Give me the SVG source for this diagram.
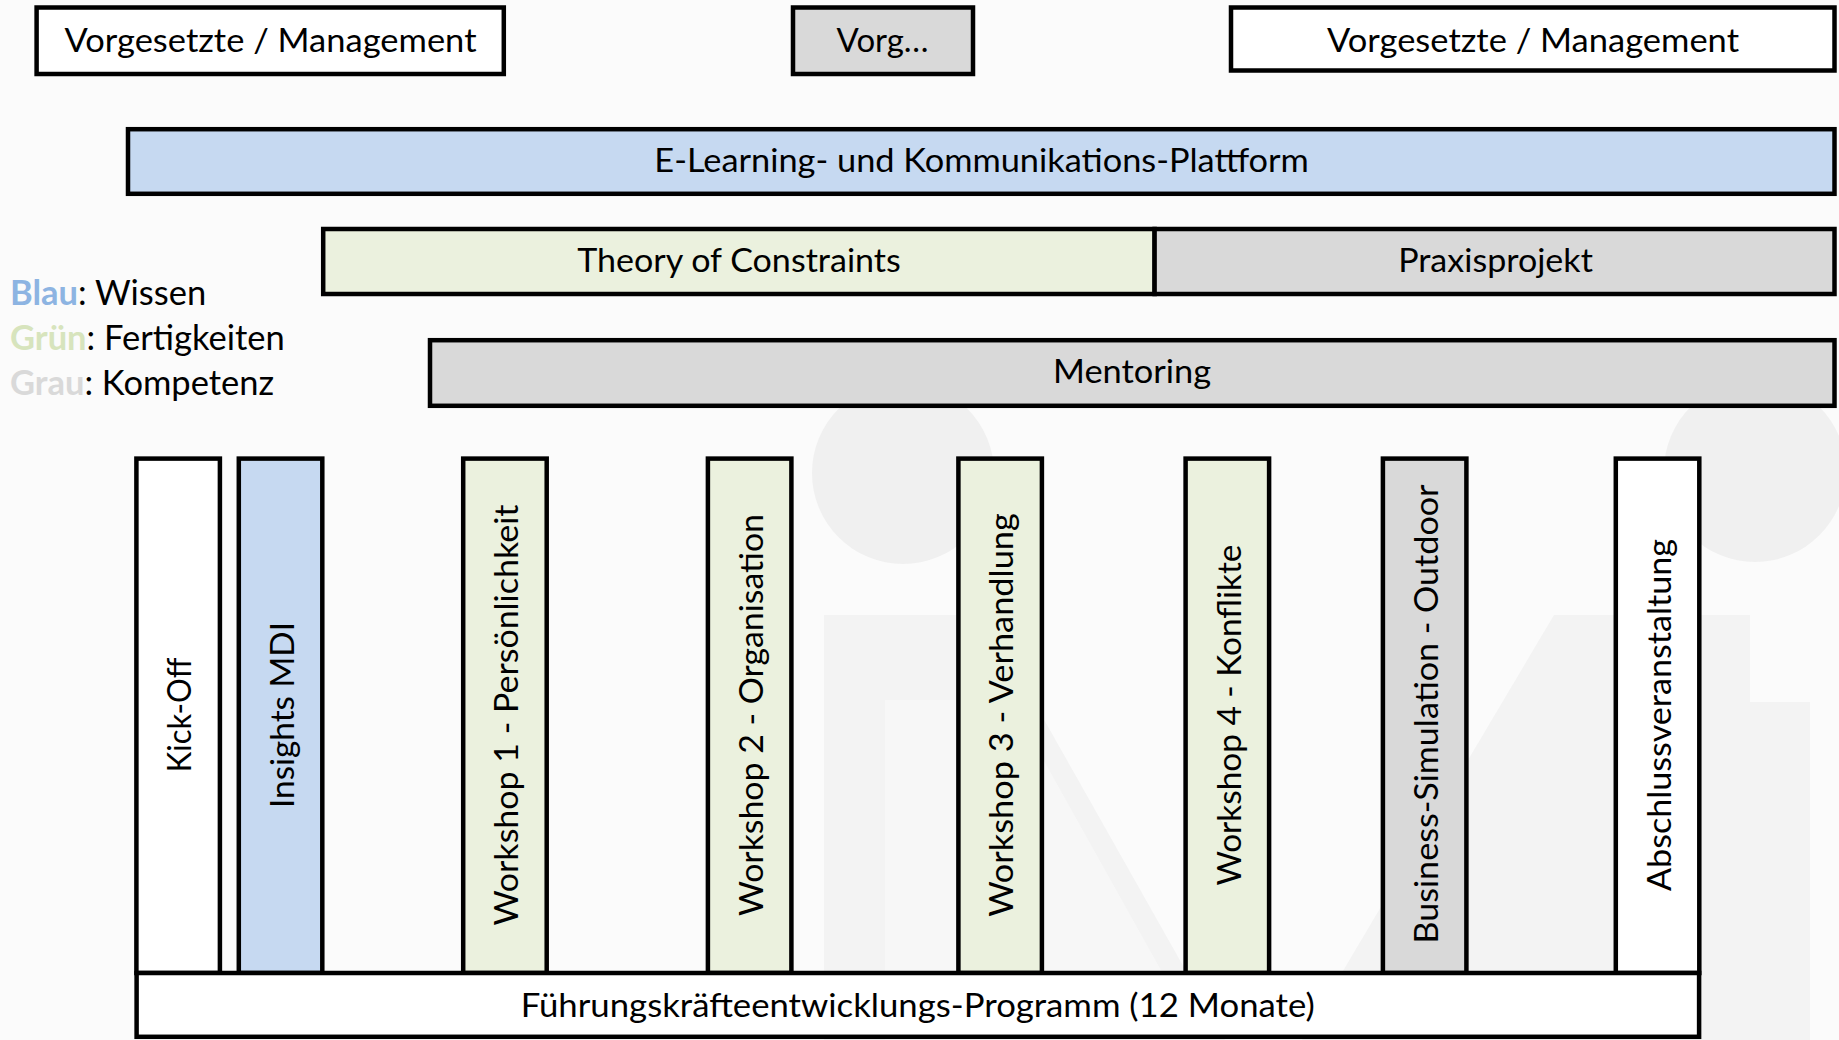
<svg xmlns="http://www.w3.org/2000/svg" width="1839" height="1040" viewBox="0 0 1839 1040">
  <defs>
    <style>
      .box { stroke: #000; stroke-width: 4.5; stroke-linejoin: miter; }
      .white { fill: #ffffff; }
      .blue { fill: #c6d9f1; }
      .green { fill: #ebf1de; }
      .gray { fill: #d9d9d9; }
      .t { font-family: "Lato", "Carlito", "Liberation Sans", sans-serif; font-size: 33px; fill: #000; text-anchor: middle; }
      .lg { font-family: "Lato", "Carlito", "Liberation Sans", sans-serif; font-size: 34.5px; fill: #000; }
      .wm1 { fill: #f0f0f0; }
      .wm2 { fill: #f3f3f3; }
      .wm3 { fill: #f7f7f7; }
    </style>
  </defs>

  <rect x="0" y="0" width="1839" height="1040" fill="#fbfbfb"/>

  <g id="watermark">
    <circle class="wm1" cx="903" cy="473" r="91"/>
    <circle class="wm1" cx="1755" cy="471" r="91"/>
    <path class="wm2" d="M824,615 L985,615 L1225,1040 L824,1040 Z"/>
    <path class="wm3" d="M885,700 L1010,700 L1200,1040 L885,1040 Z"/>
    <path class="wm2" d="M1302,1040 L1554,615 L1750,615 L1750,702 L1810,702 L1810,1040 Z"/>
  </g>

  <g id="connectors"/>

  <g id="legend">
    <text class="lg" x="10" y="305"><tspan fill="#8db4e2" font-weight="bold">Blau</tspan>: Wissen</text>
    <text class="lg" x="10" y="350"><tspan fill="#d7e4bd" font-weight="bold">Grün</tspan>: Fertigkeiten</text>
    <text class="lg" x="10" y="395"><tspan fill="#d9d9d9" font-weight="bold">Grau</tspan>: Kompetenz</text>
  </g>

  <g id="vorgesetzte-links">
    <rect class="box white" x="36.6" y="7.5" width="467.2" height="66.5"/>
    <text class="t" x="270.5" y="52" textLength="412" lengthAdjust="spacingAndGlyphs">Vorgesetzte / Management</text>
  </g>
  <g id="vorgesetzte-mitte">
    <rect class="box gray" x="793" y="7.5" width="180" height="66.5"/>
    <text class="t" x="882.6" y="52" textLength="92" lengthAdjust="spacingAndGlyphs">Vorg…</text>
  </g>
  <g id="vorgesetzte-rechts">
    <rect class="box white" x="1231" y="7.5" width="603.5" height="63"/>
    <text class="t" x="1533" y="52" textLength="412" lengthAdjust="spacingAndGlyphs">Vorgesetzte / Management</text>
  </g>

  <g id="e-learning">
    <rect class="box blue" x="128" y="129.2" width="1706.5" height="64.6"/>
    <text class="t" x="981.6" y="171.5" textLength="654.5" lengthAdjust="spacingAndGlyphs">E-Learning- und Kommunikations-Plattform</text>
  </g>

  <g id="theory-of-constraints">
    <rect class="box green" x="323.2" y="229" width="831.4" height="65"/>
    <text class="t" x="739" y="271.5" textLength="323.7" lengthAdjust="spacingAndGlyphs">Theory of Constraints</text>
  </g>
  <g id="praxisprojekt">
    <rect class="box gray" x="1154.6" y="229" width="679.9" height="65"/>
    <text class="t" x="1495.5" y="271.5" textLength="194.7" lengthAdjust="spacingAndGlyphs">Praxisprojekt</text>
  </g>

  <g id="mentoring">
    <rect class="box gray" x="430" y="340.2" width="1404.5" height="65.6"/>
    <text class="t" x="1132" y="383" textLength="158" lengthAdjust="spacingAndGlyphs">Mentoring</text>
  </g>

  <g id="kick-off">
    <rect class="box white" x="136.4" y="458.6" width="83.5" height="514.4"/>
    <text class="t" transform="translate(191.4,715) rotate(-90)" textLength="114.7" lengthAdjust="spacingAndGlyphs">Kick-Off</text>
  </g>
  <g id="insights-mdi">
    <rect class="box blue" x="238.8" y="458.6" width="83.5" height="514.4"/>
    <text class="t" transform="translate(293.8,715) rotate(-90)" textLength="186" lengthAdjust="spacingAndGlyphs">Insights MDI</text>
  </g>
  <g id="workshop-1">
    <rect class="box green" x="463.2" y="458.6" width="83.5" height="514.4"/>
    <text class="t" transform="translate(518.2,715) rotate(-90)" textLength="421" lengthAdjust="spacingAndGlyphs">Workshop 1 - Persönlichkeit</text>
  </g>
  <g id="workshop-2">
    <rect class="box green" x="707.9" y="458.6" width="83.5" height="514.4"/>
    <text class="t" transform="translate(762.9,715) rotate(-90)" textLength="402" lengthAdjust="spacingAndGlyphs">Workshop 2 - Organisation</text>
  </g>
  <g id="workshop-3">
    <rect class="box green" x="958.4" y="458.6" width="83.5" height="514.4"/>
    <text class="t" transform="translate(1013.4,715) rotate(-90)" textLength="403.5" lengthAdjust="spacingAndGlyphs">Workshop 3 - Verhandlung</text>
  </g>
  <g id="workshop-4">
    <rect class="box green" x="1185.6" y="458.6" width="83.5" height="514.4"/>
    <text class="t" transform="translate(1240.6,715) rotate(-90)" textLength="341" lengthAdjust="spacingAndGlyphs">Workshop 4 - Konflikte</text>
  </g>
  <g id="business-simulation">
    <rect class="box gray" x="1382.9" y="458.6" width="83.5" height="514.4"/>
    <text class="t" transform="translate(1437.9,714) rotate(-90)" textLength="459" lengthAdjust="spacingAndGlyphs">Business-Simulation - Outdoor</text>
  </g>
  <g id="abschlussveranstaltung">
    <rect class="box white" x="1615.8" y="458.6" width="83.5" height="514.4"/>
    <text class="t" transform="translate(1670.8,715) rotate(-90)" textLength="352" lengthAdjust="spacingAndGlyphs">Abschlussveranstaltung</text>
  </g>

  <g id="programm">
    <rect class="box white" x="136.6" y="973" width="1562.5" height="63.8"/>
    <text class="t" x="917.7" y="1017" textLength="794" lengthAdjust="spacingAndGlyphs">Führungskräfteentwicklungs-Programm (12 Monate)</text>
  </g>
</svg>
